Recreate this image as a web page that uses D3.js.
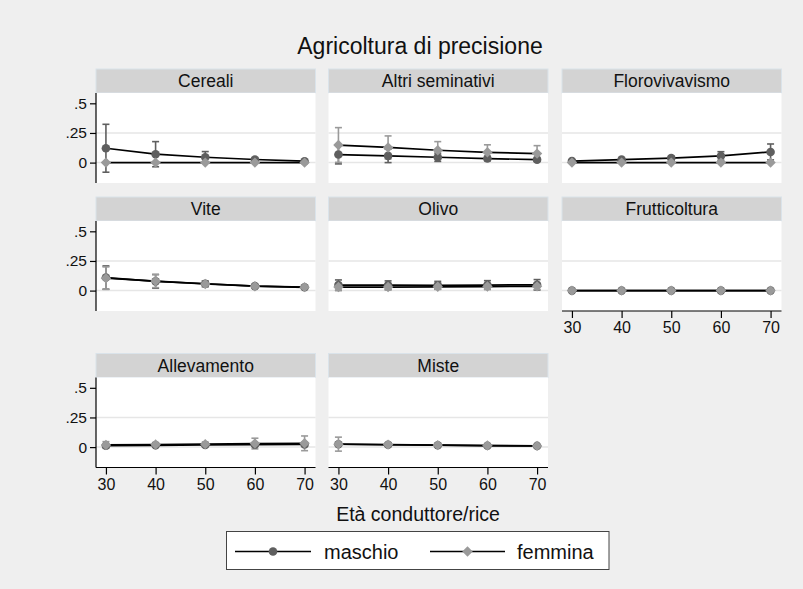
<!DOCTYPE html>
<html>
<head>
<meta charset="utf-8">
<script src="https://cdn.jsdelivr.net/npm/d3@7"></script>
<style>
  html, body { margin: 0; padding: 0; background: #efefef; }
  svg { display: block; font-family: "Liberation Sans", Arial, sans-serif; }
</style>
</head>
<body>
<svg id="chart" width="803" height="589"></svg>
<script>
// Ages at which predicted shares are shown
const ages = [30, 40, 50, 60, 70];
const xTickValues = [30, 40, 50, 60, 70];
const yTickValues = [0, 0.25, 0.5];
const yTickLabels = ["0", ".25", ".5"];
const gridValues = [0, 0.25];

const panels = ["Cereali", "Altri seminativi", "Florovivavismo", "Vite", "Olivo",
                "Frutticoltura", "Allevamento", "Miste"];

const seriesNames = ["maschio", "femmina"];

// Predicted share, lower and upper confidence bounds (one row per panel)
const maschioMean = [
  [0.121, 0.071, 0.045, 0.026, 0.012],
  [0.068, 0.057, 0.045, 0.034, 0.025],
  [0.013, 0.025, 0.038, 0.056, 0.090],
  [0.110, 0.078, 0.058, 0.038, 0.028],
  [0.047, 0.046, 0.045, 0.047, 0.049],
  [0.000, 0.000, 0.000, 0.000, 0.000],
  [0.012, 0.015, 0.018, 0.020, 0.022],
  [0.024, 0.020, 0.016, 0.012, 0.010]
];
const maschioLow = [
  [-0.081, -0.035, -0.003, 0.012, 0.004],
  [-0.011, 0.000, 0.010, 0.015, 0.012],
  [0.003, 0.015, 0.022, 0.020, 0.023],
  [0.012, 0.020, 0.035, 0.025, 0.018],
  [0.003, 0.010, 0.012, 0.010, 0.005],
  [0.000, 0.000, 0.000, 0.000, 0.000],
  [0.002, 0.005, 0.008, 0.010, 0.010],
  [0.014, 0.012, 0.010, 0.007, 0.005]
];
const maschioHigh = [
  [0.323, 0.177, 0.093, 0.040, 0.020],
  [0.147, 0.114, 0.080, 0.053, 0.038],
  [0.023, 0.035, 0.054, 0.092, 0.157],
  [0.208, 0.136, 0.081, 0.051, 0.038],
  [0.090, 0.082, 0.078, 0.084, 0.093],
  [0.000, 0.000, 0.000, 0.000, 0.000],
  [0.022, 0.025, 0.028, 0.030, 0.034],
  [0.034, 0.028, 0.022, 0.017, 0.015]
];
const femminaMean = [
  [0.000, 0.000, 0.000, 0.000, 0.000],
  [0.148, 0.128, 0.104, 0.087, 0.076],
  [0.000, 0.000, 0.000, 0.000, 0.000],
  [0.105, 0.080, 0.056, 0.037, 0.029],
  [0.030, 0.030, 0.032, 0.034, 0.036],
  [0.000, 0.000, 0.000, 0.000, 0.000],
  [0.018, 0.022, 0.025, 0.030, 0.032],
  [0.025, 0.021, 0.017, 0.013, 0.010]
];
const femminaLow = [
  [0.000, 0.000, 0.000, 0.000, 0.000],
  [0.002, 0.031, 0.031, 0.024, 0.009],
  [0.000, 0.000, 0.000, 0.000, 0.000],
  [0.010, 0.025, 0.030, 0.022, 0.018],
  [0.000, 0.005, 0.010, 0.012, 0.010],
  [0.000, 0.000, 0.000, 0.000, 0.000],
  [-0.010, 0.005, 0.008, -0.015, -0.030],
  [-0.034, 0.005, 0.008, 0.005, 0.004]
];
const femminaHigh = [
  [0.000, 0.000, 0.000, 0.000, 0.000],
  [0.295, 0.225, 0.177, 0.150, 0.143],
  [0.000, 0.000, 0.000, 0.000, 0.000],
  [0.200, 0.135, 0.082, 0.052, 0.040],
  [0.060, 0.055, 0.054, 0.056, 0.062],
  [0.000, 0.000, 0.000, 0.000, 0.000],
  [0.046, 0.039, 0.042, 0.075, 0.094],
  [0.084, 0.037, 0.026, 0.021, 0.016]
];

const chartTitle = "Agricoltura di precisione";
const xTitle = "Età conduttore/rice";

// ---- layout ----
const svg = d3.select("#chart");
const colLeft = [96, 328.5, 562];
const rowTop = [93, 221, 377.5];
const panelW = 219.5, plotH = 90, stripH = 24;
const markerColor = ["#5f5f5f", "#9a9a9a"];
const lineColor = "#000";

const series = [
  { name: seriesNames[0], mean: maschioMean, low: maschioLow, high: maschioHigh, shape: "circle" },
  { name: seriesNames[1], mean: femminaMean, low: femminaLow, high: femminaHigh, shape: "diamond" }
];

svg.append("rect").attr("width", 803).attr("height", 589).attr("fill", "#efefef");

const circleSym = d3.symbol().type(d3.symbolCircle).size(Math.PI * 4.3 * 4.3);
const diamondPath = r => `M0,${-r}L${r},0L0,${r}L${-r},0Z`;

function drawMarker(g, shape, color) {
  if (shape === "circle") {
    g.append("path").attr("d", circleSym()).attr("fill", color);
  } else {
    g.append("path").attr("d", diamondPath(5.2)).attr("fill", color);
  }
}

panels.forEach((name, i) => {
  const row = Math.floor(i / 3), col = i % 3;
  const left = colLeft[col], top = rowTop[row];
  const x = d3.scaleLinear().domain([28, 72.2]).range([left, left + panelW]);
  const y = d3.scaleLinear().domain([-0.172, 0.587]).range([top + plotH, top]);
  const g = svg.append("g");

  // strip header
  g.append("rect").attr("x", left).attr("y", top - stripH).attr("width", panelW).attr("height", stripH)
    .attr("fill", "#d3d3d3").attr("stroke", "#dae3ea").attr("stroke-width", 1);
  g.append("text").attr("x", left + panelW / 2).attr("y", top - 6)
    .attr("text-anchor", "middle").attr("font-size", 17.5).attr("fill", "#111").text(name);

  // plot region
  g.append("rect").attr("x", left).attr("y", top).attr("width", panelW).attr("height", plotH).attr("fill", "#fff");

  g.selectAll(".grid").data(gridValues).join("line")
    .attr("x1", left).attr("x2", left + panelW)
    .attr("y1", d => y(d)).attr("y2", d => y(d))
    .attr("stroke", "#e6e6e6").attr("stroke-width", 1.5);

  // confidence intervals
  series.forEach((s, si) => {
    const ci = ages.map((a, k) => ({ a, lo: s.low[i][k], hi: s.high[i][k] }))
      .filter(d => d.hi - d.lo > 0.0001);
    const cg = g.append("g").attr("stroke", markerColor[si]).attr("stroke-width", 1.6).attr("fill", "none");
    ci.forEach(d => {
      cg.append("line").attr("x1", x(d.a)).attr("x2", x(d.a)).attr("y1", y(d.lo)).attr("y2", y(d.hi));
      cg.append("line").attr("x1", x(d.a) - 3.5).attr("x2", x(d.a) + 3.5).attr("y1", y(d.lo)).attr("y2", y(d.lo));
      cg.append("line").attr("x1", x(d.a) - 3.5).attr("x2", x(d.a) + 3.5).attr("y1", y(d.hi)).attr("y2", y(d.hi));
    });
  });

  // connecting lines
  const line = d3.line().x(d => x(d[0])).y(d => y(d[1]));
  series.forEach(s => {
    g.append("path").datum(ages.map((a, k) => [a, s.mean[i][k]]))
      .attr("d", line).attr("fill", "none").attr("stroke", lineColor).attr("stroke-width", 1.7);
  });

  // markers
  series.forEach((s, si) => {
    ages.forEach((a, k) => {
      const mg = g.append("g").attr("transform", `translate(${x(a)},${y(s.mean[i][k])})`);
      drawMarker(mg, s.shape, markerColor[si]);
    });
  });

  // y axis on first column
  if (col === 0) {
    const ax = g.append("g").attr("transform", `translate(${left},0)`)
      .call(d3.axisLeft(y).tickValues(yTickValues).tickSize(6).tickSizeOuter(0)
        .tickFormat((d, k) => yTickLabels[k]));
    ax.select(".domain").attr("stroke", "#000").attr("stroke-width", 1.2).attr("d", `M0,${top}V${top + plotH}`);
    ax.selectAll(".tick line").attr("stroke", "#000").attr("stroke-width", 1.2);
    ax.selectAll(".tick text").attr("font-size", 15.5).attr("fill", "#111").attr("x", -9)
      .attr("font-family", "Liberation Sans, Arial, sans-serif");
  }

  // x axis on bottom panel of each column
  const isBottom = (i + 3 >= panels.length);
  if (isBottom) {
    const ax = g.append("g").attr("transform", `translate(0,${top + plotH})`)
      .call(d3.axisBottom(x).tickValues(xTickValues).tickSize(7).tickSizeOuter(0).tickFormat(d3.format("d")));
    ax.select(".domain").attr("stroke", "#000").attr("stroke-width", 1.2).attr("d", `M${left},0H${left + panelW}`);
    ax.selectAll(".tick line").attr("stroke", "#000").attr("stroke-width", 1.2);
    ax.selectAll(".tick text").attr("font-size", 16).attr("fill", "#111").attr("y", 11)
      .attr("font-family", "Liberation Sans, Arial, sans-serif");
  }
});

// titles
svg.append("text").attr("x", 420).attr("y", 54).attr("text-anchor", "middle")
  .attr("font-size", 23).attr("fill", "#111").text(chartTitle);
svg.append("text").attr("x", 418).attr("y", 520.5).attr("text-anchor", "middle")
  .attr("font-size", 19.5).attr("fill", "#111").text(xTitle);

// legend
const lg = svg.append("g");
lg.append("rect").attr("x", 226.5).attr("y", 531.5).attr("width", 382.5).attr("height", 38)
  .attr("fill", "#fff").attr("stroke", "#444").attr("stroke-width", 1);
const legendItems = [
  { x0: 235, x1: 311, label: seriesNames[0], tx: 324, shape: "circle", color: markerColor[0] },
  { x0: 430, x1: 505, label: seriesNames[1], tx: 517, shape: "diamond", color: markerColor[1] }
];
legendItems.forEach(it => {
  lg.append("line").attr("x1", it.x0).attr("x2", it.x1).attr("y1", 551.5).attr("y2", 551.5)
    .attr("stroke", "#000").attr("stroke-width", 1.6);
  const mg = lg.append("g").attr("transform", `translate(${(it.x0 + it.x1) / 2},551.5)`);
  drawMarker(mg, it.shape, it.color);
  lg.append("text").attr("x", it.tx).attr("y", 558.5).attr("font-size", 20).attr("fill", "#111").text(it.label);
});
</script>
</body>
</html>
